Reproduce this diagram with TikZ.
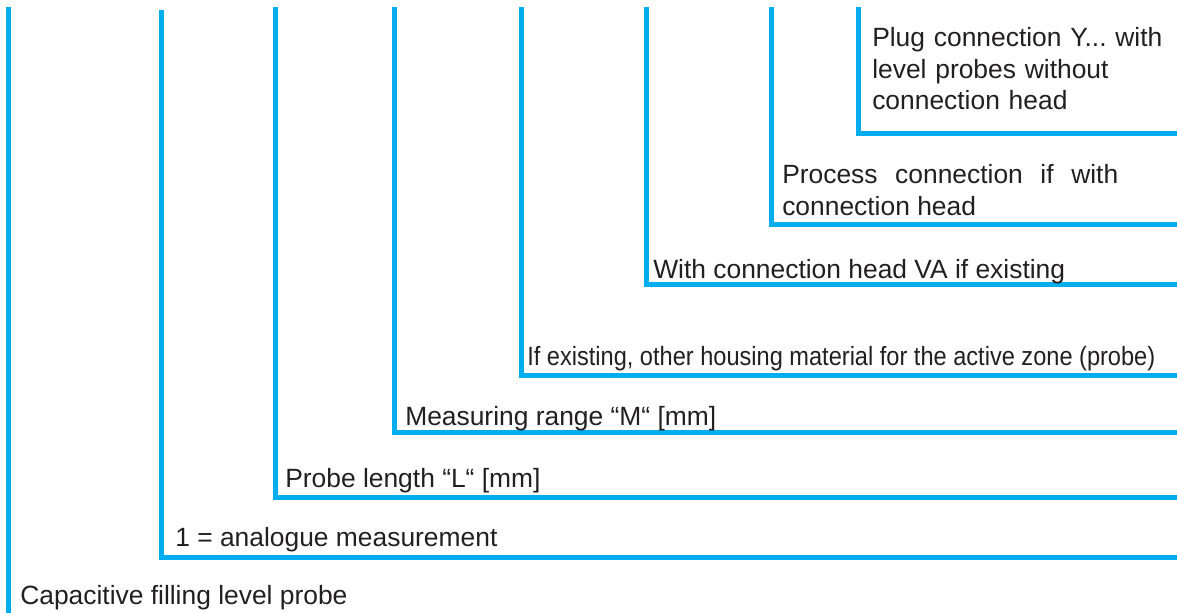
\documentclass[tikz,border=0pt]{standalone}
\usepackage{fontspec}
\setmainfont{Liberation Sans}
\definecolor{lead}{HTML}{00AEEF}
\definecolor{ink}{HTML}{231F20}
\begin{document}
\frenchspacing
\begin{tikzpicture}[x=0.75pt,y=-0.75pt,
  leader/.style={draw=lead,line width=3.75pt,line join=miter},
  label/.style={inner sep=0pt,anchor=base west,text=ink,
    font=\fontsize{19.8pt}{23.3pt}\selectfont}]
\useasboundingbox (0,0) rectangle (1177,613);

% leader lines: tops, corners and right ends
\coordinate (t1) at (8,7);      \coordinate (b1) at (8,613);
\coordinate (t2) at (161,10);   \coordinate (c2) at (161,557);   \coordinate (e2) at (1177,557);
\coordinate (t3) at (275,7);    \coordinate (c3) at (275,497);   \coordinate (e3) at (1177,497);
\coordinate (t4) at (394.5,7);  \coordinate (c4) at (394.5,432); \coordinate (e4) at (1177,432);
\coordinate (t5) at (521,7);    \coordinate (c5) at (521,375.5); \coordinate (e5) at (1177,375.5);
\coordinate (t6) at (646.5,7);  \coordinate (c6) at (646.5,284); \coordinate (e6) at (1177,284);
\coordinate (t7) at (771.5,7);  \coordinate (c7) at (771.5,224); \coordinate (e7) at (1177,224);
\coordinate (t8) at (858.5,7);  \coordinate (c8) at (858.5,134); \coordinate (e8) at (1177,134);

\draw[leader] (t1) -- (b1);
\draw[leader] (t2) -- (c2) -- (e2);
\draw[leader] (t3) -- (c3) -- (e3);
\draw[leader] (t4) -- (c4) -- (e4);
\draw[leader] (t5) -- (c5) -- (e5);
\draw[leader] (t6) -- (c6) -- (e6);
\draw[leader] (t7) -- (c7) -- (e7);
\draw[leader] (t8) -- (c8) -- (e8);

% labels
\node[label] (n1) at (20,604) {Capacitive filling level probe};
\node[label] (n2) at (175,546) {1 = analogue measurement};
\node[label] (n3) at (285,487) {Probe length “L“ [mm]};
\node[label] (n4) at (405,425) {Measuring range “M“ [mm]};
\node[label] (n5) at (527,365) {\resizebox{471pt}{\height}{If existing, other housing material for the active zone (probe)}};
\node[label] (n6) at (653,278) {With connection head VA if existing};
\node[label,text width=252pt,align=justify] (n7) at (782,184) {Process connection if with connection head};
\node[label,text width=230pt,align=left] (n8) at (872,47) {Plug connection Y... with\\level probes without\\connection head};
\end{tikzpicture}
\end{document}
